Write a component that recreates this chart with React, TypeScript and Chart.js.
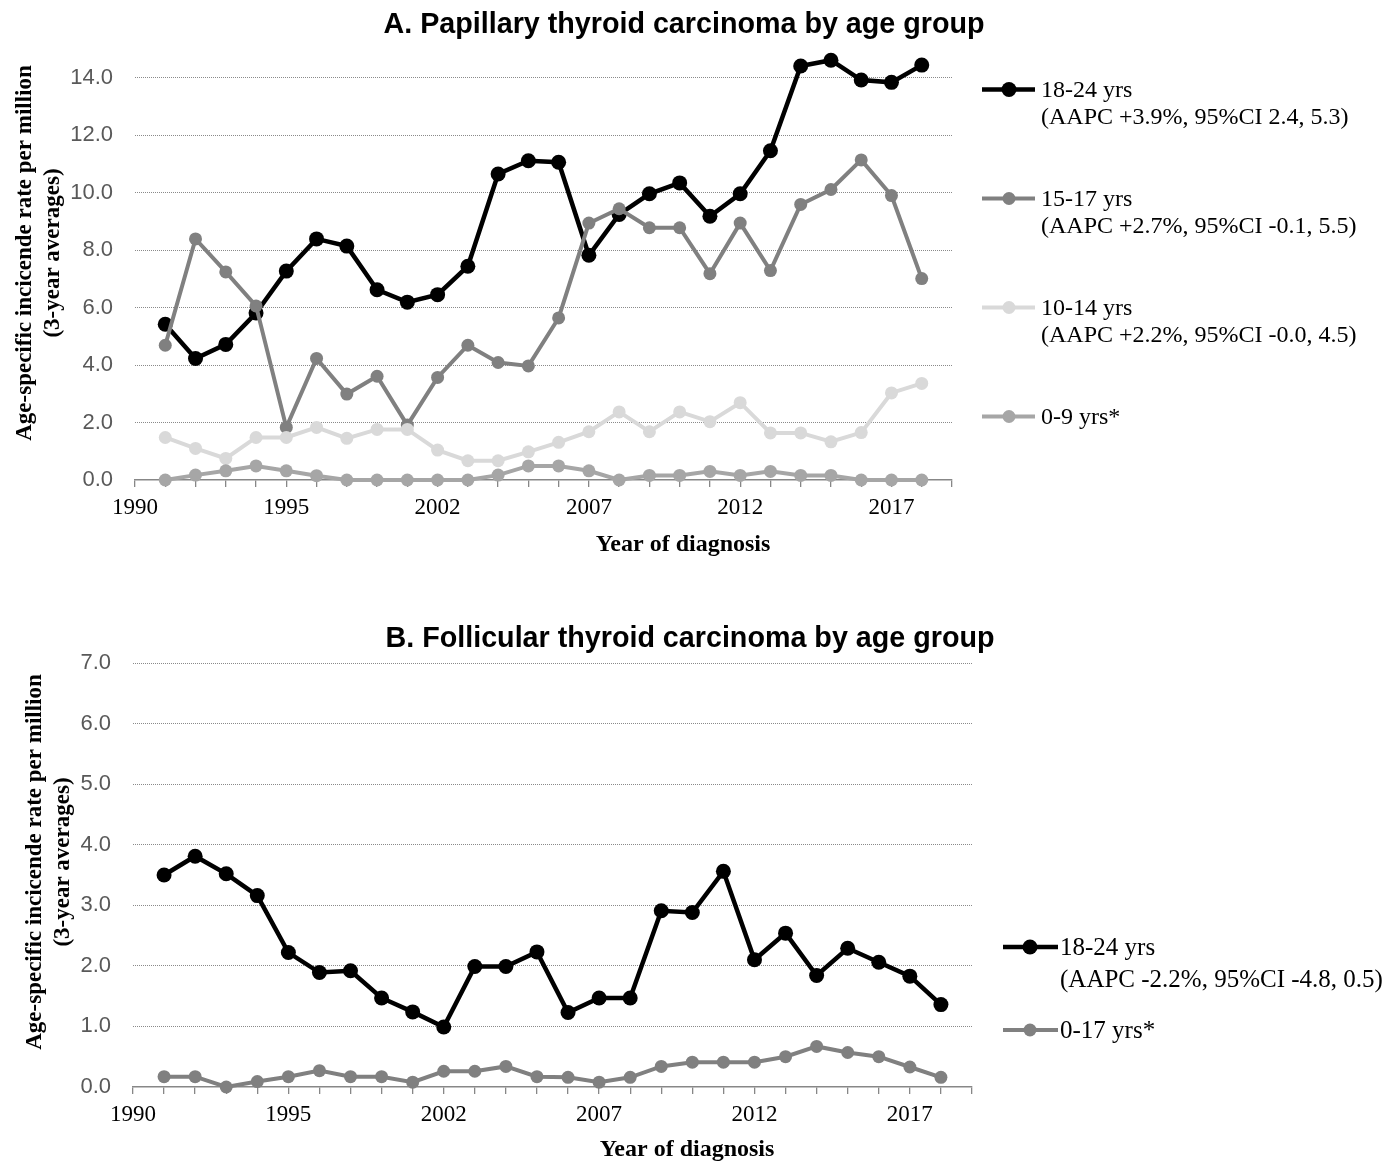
import React, { useEffect, useRef } from 'react';
import { Chart, registerables } from 'chart.js';

Chart.register(...registerables);

// ---------- data ----------
const xLabels = ['1990', '', '', '', '', '1995', '', '', '', '', '2002', '', '', '', '', '2007', '', '', '', '', '2012', '', '', '', '', '2017', '', ''];

const papillary18to24 = [5.42, 4.23, 4.72, 5.81, 7.27, 8.39, 8.14, 6.62, 6.19, 6.45, 7.44, 10.65, 11.11, 11.06, 7.82, 9.24, 9.96, 10.34, 9.18, 9.96, 11.46, 14.41, 14.61, 13.92, 13.84, 14.44];
const papillary15to17 = [4.69, 8.39, 7.24, 6.06, 1.83, 4.23, 2.99, 3.61, 1.91, 3.57, 4.69, 4.09, 3.97, 5.64, 8.94, 9.44, 8.78, 8.78, 7.18, 8.94, 7.29, 9.59, 10.11, 11.14, 9.9, 7.01];
const papillary10to14 = [1.48, 1.1, 0.75, 1.48, 1.48, 1.83, 1.45, 1.76, 1.76, 1.04, 0.67, 0.67, 0.98, 1.31, 1.68, 2.37, 1.68, 2.37, 2.03, 2.69, 1.64, 1.64, 1.33, 1.65, 3.03, 3.36];
const papillary0to9 = [0, 0.17, 0.32, 0.49, 0.32, 0.15, 0, 0, 0, 0, 0, 0.17, 0.49, 0.49, 0.32, 0, 0.16, 0.16, 0.3, 0.16, 0.3, 0.16, 0.16, 0, 0, 0];

const follicular18to24 = [3.5, 3.81, 3.52, 3.16, 2.22, 1.89, 1.92, 1.47, 1.24, 0.99, 1.99, 1.99, 2.23, 1.23, 1.47, 1.47, 2.91, 2.88, 3.56, 2.1, 2.54, 1.84, 2.29, 2.06, 1.83, 1.36];
const follicular0to17 = [0.17, 0.17, 0, 0.09, 0.17, 0.27, 0.17, 0.17, 0.08, 0.26, 0.26, 0.34, 0.17, 0.16, 0.08, 0.16, 0.34, 0.41, 0.41, 0.41, 0.5, 0.67, 0.57, 0.5, 0.33, 0.16];

const yTicksA = [0, 2, 4, 6, 8, 10, 12, 14];
const yTicksB = [0, 1, 2, 3, 4, 5, 6, 7];

const legendA = [
  ['18-24 yrs', '(AAPC +3.9%, 95%CI 2.4, 5.3)'],
  ['15-17 yrs', '(AAPC +2.7%, 95%CI -0.1, 5.5)'],
  ['10-14 yrs', '(AAPC +2.2%, 95%CI -0.0, 4.5)'],
  ['0-9 yrs*'],
];
const legendB = [
  ['18-24 yrs', '(AAPC -2.2%, 95%CI -4.8, 0.5)'],
  ['0-17 yrs*'],
];

const titleA = 'A. Papillary thyroid carcinoma by age group';
const titleB = 'B. Follicular thyroid carcinoma by age group';
const xTitle = 'Year of diagnosis';
const yTitle = ['Age-specific incicende rate per million', '(3-year averages)'];

// pad series so points sit between first/last category ticks
const pad = (arr: number[]) => [null, ...arr, null];

const SERIF = '"Liberation Serif", "Times New Roman", serif';
const SANS = '"Liberation Sans", Arial, sans-serif';

type LegendCfg = {
  entries: string[][];
  lineX1: number;
  lineX2: number;
  markerX: number;
  textX: number;
  ys: number[];
  lineGap: number;
  font: string;
};

type OverlayCfg = {
  title: string;
  titleX: number;
  titleY: number;
  xTitleX: number;
  xTitleY: number;
  yTitleXs: number[];
  yTitleY: number;
  legend: LegendCfg;
};

const makeOverlay = (cfg: OverlayCfg) => ({
  id: 'overlay',
  afterDraw(chart: any) {
    const ctx = chart.ctx as CanvasRenderingContext2D;
    ctx.save();
    ctx.fillStyle = '#000';
    ctx.textAlign = 'center';
    ctx.textBaseline = 'middle';
    ctx.font = `bold 28.7px ${SANS}`;
    ctx.fillText(cfg.title, cfg.titleX, cfg.titleY);
    ctx.font = `bold 24px ${SERIF}`;
    ctx.fillText(xTitle, cfg.xTitleX, cfg.xTitleY);
    ctx.font = `bold 23px ${SERIF}`;
    yTitle.forEach((line, i) => {
      ctx.save();
      ctx.translate(cfg.yTitleXs[i], cfg.yTitleY);
      ctx.rotate(-Math.PI / 2);
      ctx.fillText(line, 0, 0);
      ctx.restore();
    });
    const lg = cfg.legend;
    lg.entries.forEach((lines, i) => {
      const ds = chart.data.datasets[i];
      const y = lg.ys[i];
      ctx.strokeStyle = ds.borderColor;
      ctx.lineWidth = ds.borderWidth;
      ctx.beginPath();
      ctx.moveTo(lg.lineX1, y);
      ctx.lineTo(lg.lineX2, y);
      ctx.stroke();
      ctx.fillStyle = ds.pointBackgroundColor;
      ctx.beginPath();
      ctx.arc(lg.markerX, y, ds.pointRadius, 0, Math.PI * 2);
      ctx.fill();
      ctx.fillStyle = '#000';
      ctx.textAlign = 'left';
      ctx.font = lg.font;
      lines.forEach((t, j) => ctx.fillText(t, lg.textX, y + 1 + j * lg.lineGap));
    });
    ctx.restore();
  },
});

const series = (label: string, data: number[], color: string, width: number, radius: number, order: number) => ({
  label,
  data: pad(data),
  borderColor: color,
  backgroundColor: color,
  pointBackgroundColor: color,
  pointBorderColor: color,
  pointBorderWidth: 0,
  borderWidth: width,
  pointRadius: radius,
  pointHoverRadius: radius,
  tension: 0,
  clip: false,
  order,
  spanGaps: false,
});

const makeOptions = (
  yMax: number,
  yTicks: number[],
  yWidth: number,
  padding: { top: number; right: number; bottom: number; left: number }
) => ({
  responsive: false,
  animation: false,
  devicePixelRatio: 1,
  events: [],
  layout: { padding },
  plugins: { legend: { display: false }, title: { display: false }, tooltip: { enabled: false } },
  scales: {
    x: {
      type: 'category',
      labels: xLabels,
      offset: false,
      border: { display: true, color: '#878787', width: 1.5 },
      grid: { drawOnChartArea: false, drawTicks: true, tickLength: 7, color: '#878787', lineWidth: 1.3 },
      ticks: { autoSkip: false, maxRotation: 0, minRotation: 0, color: '#000', padding: 7, font: { family: SERIF, size: 23 } },
      afterFit: (s: any) => {
        s.height = 60;
      },
    },
    y: {
      min: 0,
      max: yMax,
      afterBuildTicks: (s: any) => {
        s.ticks = yTicks.map((v) => ({ value: v }));
      },
      border: { display: false, dash: [1, 1] },
      grid: {
        drawTicks: false,
        lineWidth: 1,
        color: (c: any) => (c.tick && c.tick.value === 0 ? 'rgba(0,0,0,0)' : '#8a8a8a'),
      },
      ticks: {
        color: '#595959',
        padding: 22,
        font: { family: SANS, size: 22 },
        callback: (v: any) => Number(v).toFixed(1),
      },
      afterFit: (s: any) => {
        s.width = yWidth;
      },
    },
  },
});

const W = 1390;
const HA = 580;
const HB = 586;

export default function App() {
  const refA = useRef<HTMLCanvasElement>(null);
  const refB = useRef<HTMLCanvasElement>(null);

  useEffect(() => {
    const chartA = new Chart(refA.current as HTMLCanvasElement, {
      type: 'line',
      data: {
        labels: xLabels,
        datasets: [
          series('18-24 yrs', papillary18to24, '#000000', 4.5, 7.5, 4),
          series('15-17 yrs', papillary15to17, '#808080', 4, 6.5, 3),
          series('10-14 yrs', papillary10to14, '#d9d9d9', 4, 6.5, 2),
          series('0-9 yrs*', papillary0to9, '#a6a6a6', 4, 6.5, 1),
        ],
      },
      // axis headroom to 15 so the points above 14.0 are drawn; labelled ticks stop at 14.0
      options: makeOptions(15, yTicksA, 135, { top: 49, right: W - 952, bottom: HA - 480 - 60, left: 0 }) as any,
      plugins: [
        makeOverlay({
          title: titleA,
          titleX: 684,
          titleY: 25,
          xTitleX: 683,
          xTitleY: 545,
          yTitleXs: [25, 53],
          yTitleY: 253,
          legend: {
            entries: legendA,
            lineX1: 982,
            lineX2: 1035,
            markerX: 1009,
            textX: 1041,
            ys: [89.5, 198.5, 307.5, 416.5],
            lineGap: 27,
            font: `24px ${SERIF}`,
          },
        }),
      ],
    });

    const chartB = new Chart(refB.current as HTMLCanvasElement, {
      type: 'line',
      data: {
        labels: xLabels,
        datasets: [
          series('18-24 yrs', follicular18to24, '#000000', 4.5, 7.5, 2),
          series('0-17 yrs*', follicular0to17, '#808080', 4, 6.5, 1),
        ],
      },
      options: makeOptions(7, yTicksB, 133, { top: 83, right: W - 972, bottom: HB - 507 - 60, left: 0 }) as any,
      plugins: [
        makeOverlay({
          title: titleB,
          titleX: 690,
          titleY: 59,
          xTitleX: 687,
          xTitleY: 570,
          yTitleXs: [35, 63],
          yTitleY: 282,
          legend: {
            entries: legendB,
            lineX1: 1003,
            lineX2: 1058,
            markerX: 1030,
            textX: 1060,
            ys: [367, 450],
            lineGap: 32,
            font: `25px ${SERIF}`,
          },
        }),
      ],
    });

    return () => {
      chartA.destroy();
      chartB.destroy();
    };
  }, []);

  return (
    <div style={{ position: 'absolute', left: 0, top: 0, width: W, height: HA + HB, background: '#fff' }}>
      <canvas ref={refA} width={W} height={HA} style={{ position: 'absolute', left: 0, top: 0, width: W, height: HA }} />
      <canvas ref={refB} width={W} height={HB} style={{ position: 'absolute', left: 0, top: HA, width: W, height: HB }} />
    </div>
  );
}
